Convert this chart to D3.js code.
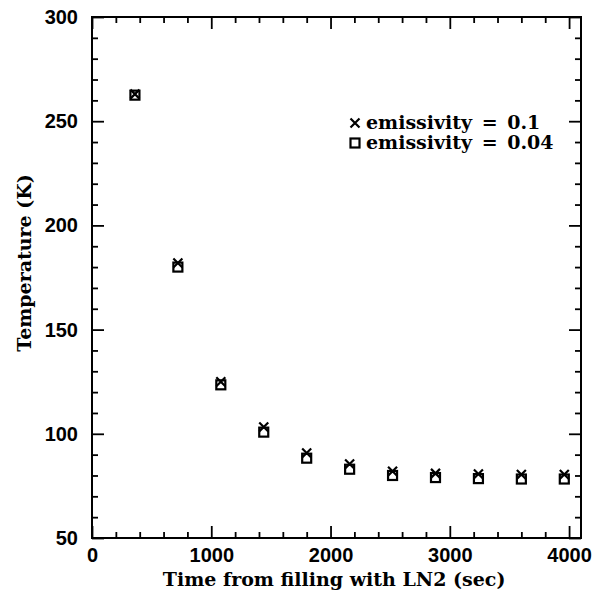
<!DOCTYPE html>
<html lang="en">
<head>
<meta charset="UTF-8">
<script src="https://d3js.org/d3.v7.min.js"></script>
<style>
  body { margin: 0; background: #fff; }
  svg { display: block; }
  .tick text { font-family: 'Liberation Sans', Arial, sans-serif; font-weight: bold; font-size: 20px; fill: #000; }
  .title { font-family: 'DejaVu Serif', serif; font-weight: bold; fill: #000; }
</style>
</head>
<body>
<div id="wrapper"></div>
<script>
// time after filling (sec)
const times = [360, 720, 1080, 1440, 1800, 2160, 2520, 2880, 3240, 3600, 3960];
// emissivity = 0.1 (crosses)
const tempE01 = [263, 182, 125, 103.3, 90.8, 85.5, 82, 81, 80.7, 80.5, 80.5];
// emissivity = 0.04 (squares)
const tempE004 = [262.5, 180, 123.5, 100.8, 88.3, 83, 80, 79, 78.5, 78.3, 78.3];

const xMajor = [0, 1000, 2000, 3000, 4000];
const yMajor = [50, 100, 150, 200, 250, 300];
const legendLabels = ["emissivity = 0.1", "emissivity = 0.04"];

const dimensions = {
  width: 608,
  height: 595,
  margin: { top: 17, right: 27, bottom: 57, left: 92 }
};
dimensions.boundedWidth = dimensions.width - dimensions.margin.left - dimensions.margin.right;
dimensions.boundedHeight = dimensions.height - dimensions.margin.top - dimensions.margin.bottom;

const svg = d3.select("#wrapper").append("svg")
  .attr("width", dimensions.width)
  .attr("height", dimensions.height);

const bounds = svg.append("g")
  .attr("transform", `translate(${dimensions.margin.left},${dimensions.margin.top})`);

const xScale = d3.scaleLinear().domain([0, 4100]).range([0, dimensions.boundedWidth]);
const yScale = d3.scaleLinear().domain([50, 300]).range([dimensions.boundedHeight, 0]);

const xMinor = d3.range(0, 4101, 200).filter(v => v % 1000 !== 0);
const yMinor = d3.range(50, 301, 10).filter(v => v % 50 !== 0);

function styleAxis(g) {
  g.select(".domain").remove();
  g.selectAll(".tick line").attr("stroke", "#000").attr("stroke-width", 1.8);
}

// bottom
bounds.append("g").attr("transform", `translate(0,${dimensions.boundedHeight})`)
  .call(d3.axisBottom(xScale).tickValues(xMajor).tickSize(-12).tickPadding(10).tickFormat(d3.format("d")))
  .call(styleAxis);
bounds.append("g").attr("transform", `translate(0,${dimensions.boundedHeight})`)
  .call(d3.axisBottom(xScale).tickValues(xMinor).tickSize(-6).tickFormat(""))
  .call(styleAxis);
// top
bounds.append("g")
  .call(d3.axisTop(xScale).tickValues(xMajor).tickSize(-12).tickFormat(""))
  .call(styleAxis);
bounds.append("g")
  .call(d3.axisTop(xScale).tickValues(xMinor).tickSize(-6).tickFormat(""))
  .call(styleAxis);
// left
bounds.append("g")
  .call(d3.axisLeft(yScale).tickValues(yMajor).tickSize(-12).tickPadding(14).tickFormat(d3.format("d")))
  .call(styleAxis);
bounds.append("g")
  .call(d3.axisLeft(yScale).tickValues(yMinor).tickSize(-6).tickFormat(""))
  .call(styleAxis);
// right
bounds.append("g").attr("transform", `translate(${dimensions.boundedWidth},0)`)
  .call(d3.axisRight(yScale).tickValues(yMajor).tickSize(-12).tickFormat(""))
  .call(styleAxis);
bounds.append("g").attr("transform", `translate(${dimensions.boundedWidth},0)`)
  .call(d3.axisRight(yScale).tickValues(yMinor).tickSize(-6).tickFormat(""))
  .call(styleAxis);

// frame
bounds.append("rect")
  .attr("width", dimensions.boundedWidth)
  .attr("height", dimensions.boundedHeight)
  .attr("fill", "none")
  .attr("stroke", "#000")
  .attr("stroke-width", 2);

// markers
function drawCross(g, cx, cy) {
  const s = 4.5;
  g.append("path")
    .attr("d", `M${cx - s},${cy - s}L${cx + s},${cy + s}M${cx - s},${cy + s}L${cx + s},${cy - s}`)
    .attr("stroke", "#000").attr("stroke-width", 2.2).attr("fill", "none");
}
function drawSquare(g, cx, cy) {
  const s = 4.5;
  g.append("rect")
    .attr("x", cx - s).attr("y", cy - s).attr("width", 2 * s).attr("height", 2 * s)
    .attr("fill", "none").attr("stroke", "#000").attr("stroke-width", 2.2);
}

times.forEach((t, i) => {
  drawSquare(bounds, xScale(t), yScale(tempE004[i]));
  drawCross(bounds, xScale(t), yScale(tempE01[i]));
});

// legend
const legend = svg.append("g");
drawCross(legend, 355, 123);
drawSquare(legend, 355, 143);
legend.selectAll("text.legend")
  .data(legendLabels)
  .join("text")
  .attr("class", "title")
  .attr("x", 366)
  .attr("y", (d, i) => 129 + i * 20)
  .style("font-size", "19px")
  .style("word-spacing", "3px")
  .text(d => d);

// axis titles
svg.append("text")
  .attr("class", "title")
  .attr("x", dimensions.margin.left + xScale(2030))
  .attr("y", 586)
  .attr("text-anchor", "middle")
  .style("font-size", "19px")
  .text("Time from filling with LN2 (sec)");

svg.append("text")
  .attr("class", "title")
  .attr("transform", "translate(31,263) rotate(-90)")
  .attr("text-anchor", "middle")
  .style("font-size", "19px")
  .text("Temperature (K)");
</script>
</body>
</html>
